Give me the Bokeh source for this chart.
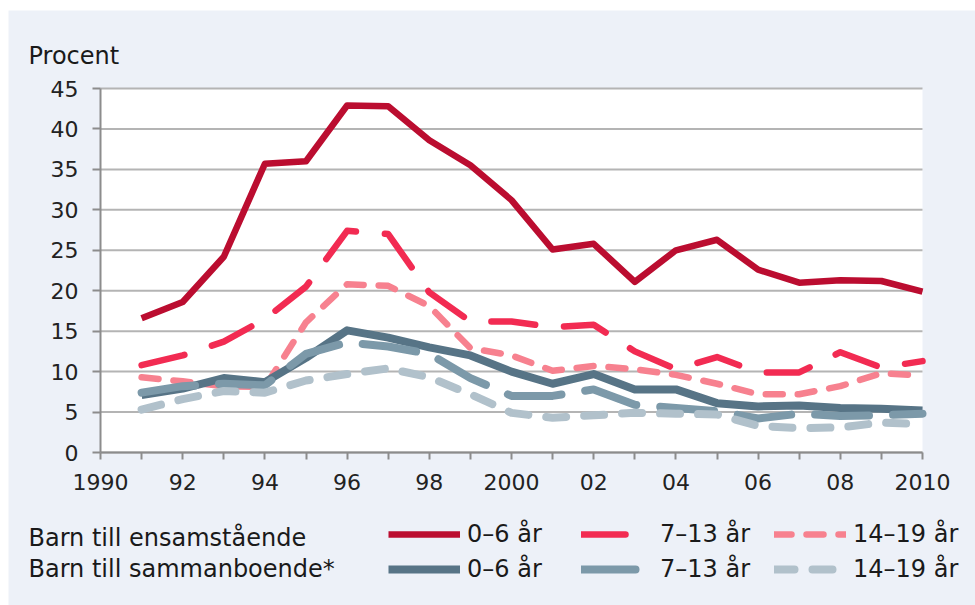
from bokeh.plotting import figure
from bokeh.models import (Range1d, FixedTicker, Legend, LegendItem, Label,
                          LinearAxis, BoxAnnotation)
from bokeh.embed import file_html
from bokeh.resources import INLINE

years = list(range(1991, 2011))
ens_0_6 = [16.6, 18.6, 24.2, 35.7, 36.0, 42.9, 42.8, 38.6, 35.5, 31.2,
           25.1, 25.8, 21.1, 25.0, 26.3, 22.6, 21.0, 21.3, 21.2, 19.9]
ens_7_13 = [10.8, 12.0, 13.7, 16.5, 20.5, 27.4, 27.0, 19.8, 16.2, 16.2,
            15.5, 15.8, 12.5, 10.3, 11.8, 9.9, 9.9, 12.4, 10.5, 11.3]
ens_14_19 = [9.3, 8.8, 8.2, 8.1, 16.1, 20.8, 20.6, 18.1, 12.9, 12.0,
             10.1, 10.7, 10.3, 9.6, 8.5, 7.2, 7.2, 8.2, 9.8, 9.5]
sam_0_6 = [7.1, 7.9, 9.2, 8.7, 11.7, 15.1, 14.2, 13.0, 12.0, 10.0,
           8.5, 9.7, 7.8, 7.8, 6.1, 5.7, 5.8, 5.5, 5.4, 5.2]
sam_7_13 = [7.4, 8.2, 8.5, 8.3, 12.2, 13.6, 13.1, 12.2, 9.2, 7.0,
            7.0, 7.8, 5.9, 5.5, 5.1, 4.2, 4.8, 4.5, 4.6, 4.8]
sam_14_19 = [5.3, 6.6, 7.6, 7.4, 8.9, 9.7, 10.4, 9.3, 7.2, 4.9,
             4.3, 4.6, 4.9, 4.8, 4.7, 3.3, 3.0, 3.1, 3.7, 3.5]

x_ticks = list(range(1990, 2011))
x_tick_labels = {1990: "1990", 1992: "92", 1994: "94", 1996: "96", 1998: "98",
                 2000: "2000", 2002: "02", 2004: "04", 2006: "06", 2008: "08",
                 2010: "2010"}
y_ticks = [0, 5, 10, 15, 20, 25, 30, 35, 40, 45]

y_title = "Procent"
group_labels = ["Barn till ensamstående", "Barn till  sammanboende*"]
age_labels = ["0–6 år", "7–13 år", "14–19 år"]

FONT = "DejaVu Sans"
BG = "#EDF1F8"
TXT = "#1a1a1a"
GRID = "#B4B4B4"
AXIS = "#8C8C8C"

series = [ens_0_6, ens_7_13, ens_14_19, sam_0_6, sam_7_13, sam_14_19]
colors = ["#BB0D30", "#F22B52", "#F7818F", "#577486", "#7C99A9", "#B1C1CB"]
widths = [6.5, 6.5, 6.5, 8, 8, 8]
dashes = ["solid", "44 29", "17 15", "solid", "54 24", "20 18"]

# canvas layout (pixels): the chart area sits inside a larger frame that also
# holds the title and the legend strip
W, H = 967, 595
PLOT_L, PLOT_R, PLOT_T, PLOT_B = 92, 914, 78, 442
x0, x1 = x_ticks[0], x_ticks[-1]
y0, y1 = y_ticks[0], y_ticks[-1]
kx = (PLOT_R - PLOT_L) / (x1 - x0)
ky = (PLOT_B - PLOT_T) / (y1 - y0)
x_range = Range1d(x0 - PLOT_L / kx, x1 + (W - PLOT_R) / kx)
y_range = Range1d(y0 - (H - PLOT_B) / ky, y1 + PLOT_T / ky)

p = figure(width=W, height=H, output_backend="svg", toolbar_location=None,
           x_range=x_range, y_range=y_range,
           x_axis_location=None, y_axis_location=None,
           min_border=0, min_border_left=0, min_border_right=0,
           min_border_top=0, min_border_bottom=0, margin=(10, 0, 0, 8))
p.background_fill_color = BG
p.border_fill_color = BG
p.outline_line_color = None
p.grid.visible = False

p.add_layout(BoxAnnotation(left=x0, right=x1, bottom=y0, top=y1,
                           fill_color="white", fill_alpha=1, line_color=None,
                           level="underlay"))
n = len(y_ticks)
p.segment(x0=[x0] * n, y0=y_ticks, x1=[x1] * n, y1=y_ticks,
          line_color=GRID, line_width=2)

xaxis = LinearAxis(fixed_location=y0, bounds=(x0, x1),
                   ticker=FixedTicker(ticks=x_ticks),
                   major_label_overrides={t: x_tick_labels.get(t, "") for t in x_ticks})
xaxis.major_tick_in = 0
xaxis.major_tick_out = 7
xaxis.major_label_standoff = 14
yaxis = LinearAxis(fixed_location=x0, bounds=(y0, y1),
                   ticker=FixedTicker(ticks=y_ticks))
yaxis.major_tick_in = 0
yaxis.major_tick_out = 8
yaxis.major_label_standoff = 14
for ax in (xaxis, yaxis):
    ax.minor_tick_line_color = None
    ax.axis_line_color = AXIS
    ax.axis_line_width = 2
    ax.major_tick_line_color = AXIS
    ax.major_tick_line_width = 2
    ax.major_label_text_font = FONT
    ax.major_label_text_font_size = "22px"
    ax.major_label_text_color = "#222222"
p.add_layout(xaxis, "below")
p.add_layout(yaxis, "left")

renderers = []
for vals, col, w, dash in zip(series, colors, widths, dashes):
    r = p.line(years, vals, line_color=col, line_width=w, line_dash=dash,
               line_cap="round" if dash != "solid" else "butt", line_join="round")
    renderers.append(r)

# title (screen units, measured from the bottom-left of the canvas)
p.add_layout(Label(x=20, y=H - 45, x_units="screen", y_units="screen",
                   text=y_title, text_font=FONT, text_font_size="24px",
                   text_color=TXT, text_baseline="middle"))

row_text_y = [68, 37]
row_leg_bottom = [56, 21]
for i in range(2):
    p.add_layout(Label(x=20, y=row_text_y[i], x_units="screen", y_units="screen",
                       text=group_labels[i], text_font=FONT,
                       text_font_size="24px", text_color=TXT,
                       text_baseline="middle"))
    items = [LegendItem(label=age_labels[j], renderers=[renderers[3 * i + j]])
             for j in range(3)]
    leg = Legend(items=items, orientation="horizontal",
                 location=(380, row_leg_bottom[i]),
                 glyph_width=72, glyph_height=30, label_height=30, label_width=92,
                 label_standoff=7, spacing=22, padding=0, margin=0,
                 border_line_color=None, background_fill_alpha=0,
                 label_text_font=FONT, label_text_font_size="24px",
                 label_text_color=TXT)
    p.add_layout(leg, "center")

open("out.html", "w").write(file_html(p, INLINE))
